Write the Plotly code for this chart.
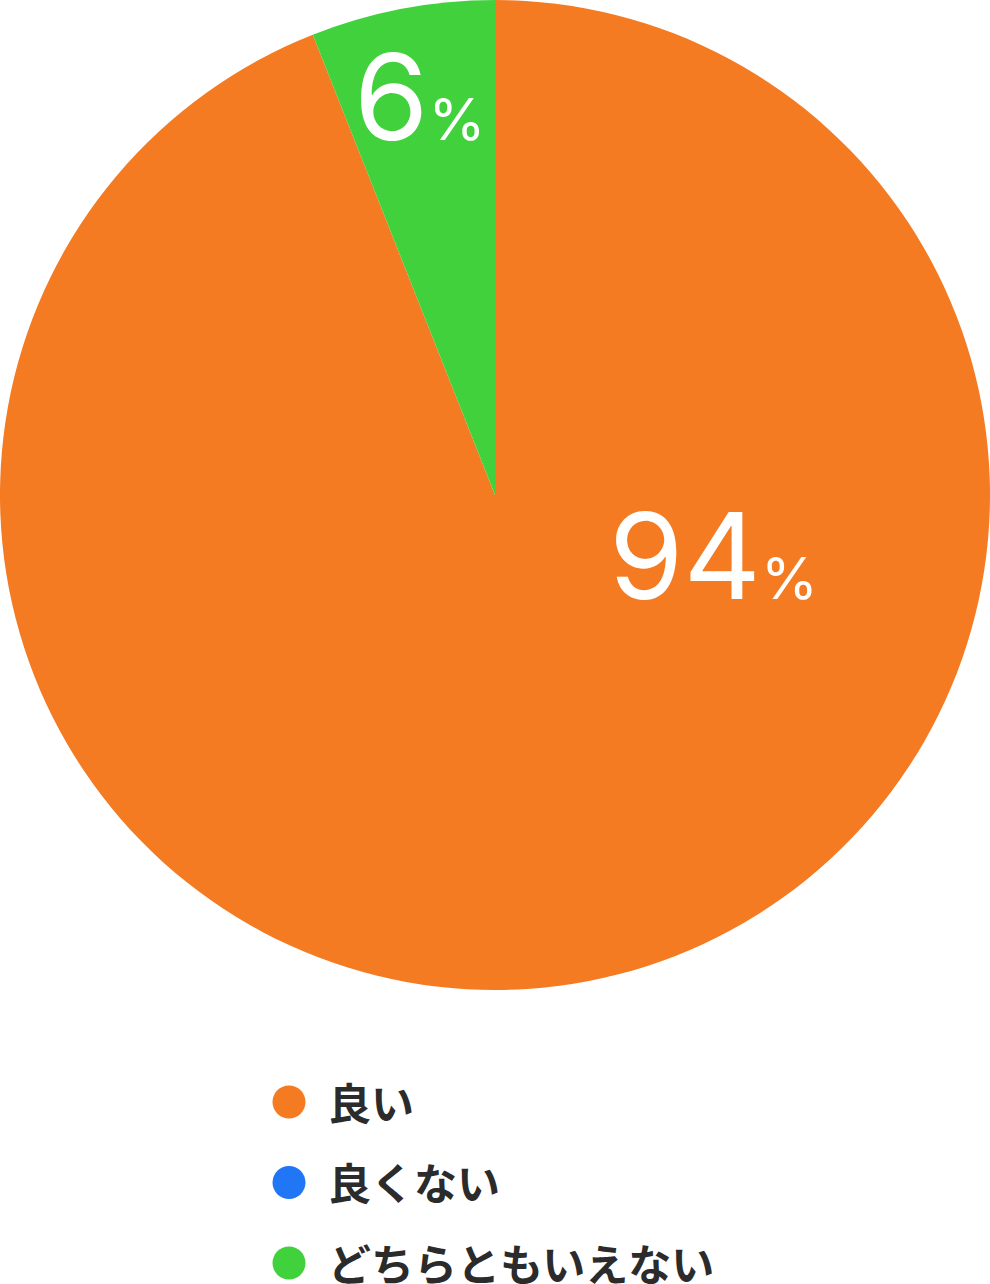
import plotly.graph_objects as go

# data
labels = ["良い", "良くない", "どちらともいえない"]
values = [94, 0, 6]
colors = ["#F47B22", "#2176F5", "#41D13C"]

W, H = 990, 1284
PIE_SIZE = 990

fig = go.Figure()

# the pie itself, no built-in text (labels are drawn as annotations below)
fig.add_trace(go.Pie(
    labels=labels,
    values=values,
    marker=dict(colors=colors, line=dict(width=0)),
    sort=False,
    direction="clockwise",
    rotation=0,
    textinfo="none",
    hoverinfo="label+percent",
    showlegend=False,
    domain=dict(x=[0, 1], y=[1 - PIE_SIZE / H, 1]),
))

# legend drawn as scatter so the dots can be big
fig.add_trace(go.Scatter(
    x=[0] * len(labels),
    y=labels,
    mode="markers",
    marker=dict(size=33, color=colors, line=dict(width=0)),
    hoverinfo="skip",
    showlegend=False,
    cliponaxis=False,
))
for name in labels:
    fig.add_annotation(
        x=37, y=name, xref="x", yref="y",
        xanchor="left", yanchor="middle", yshift=1, showarrow=False,
        text=name,
        font=dict(family="Noto Sans CJK JP", size=43, color="#2b2b2b", weight="bold"),
    )

# percent labels (pixel spots of the reference, turned into paper coords)
label_spots = {"良い": (713, 556), "どちらともいえない": (419, 97)}
total = sum(values)
for name, v in zip(labels, values):
    if name not in label_spots:
        continue
    px, py = label_spots[name]
    pct = round(v / total * 100)
    fig.add_annotation(
        x=px / W, y=1 - py / H, xref="paper", yref="paper",
        xanchor="center", yanchor="middle", showarrow=False,
        text=f"{pct}<span style='font-size:58px'>%</span>",
        font=dict(family="Inter", size=120, color="white"),
    )

fig.update_layout(
    width=W, height=H,
    margin=dict(l=0, r=0, t=0, b=0),
    paper_bgcolor="white", plot_bgcolor="white",
    xaxis=dict(domain=[0, 1], range=[-289, 701], visible=False, fixedrange=True),
    yaxis=dict(domain=[0, 1 - PIE_SIZE / H], range=[2.261, -1.391],
               type="category", visible=False, fixedrange=True),
)

fig.write_html("out.html", config={"displayModeBar": False},
               post_script="document.body.style.margin='0';")
